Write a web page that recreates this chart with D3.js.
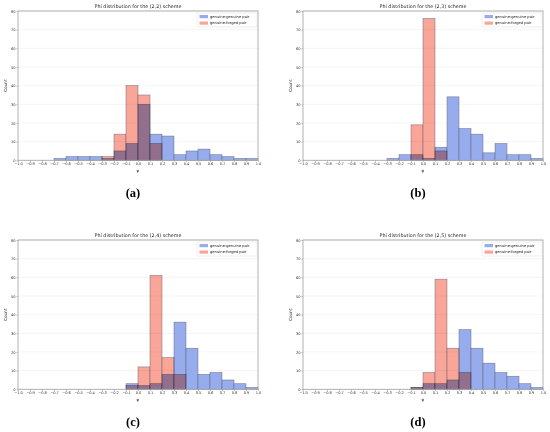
<!DOCTYPE html>
<html>
<head>
<meta charset="utf-8">
<script src="https://cdn.jsdelivr.net/npm/d3@7"></script>
<style>
  body { margin: 0; background: #fff; }
  svg { display: block; }
  .tick text { font-family: "DejaVu Sans", sans-serif; fill: #333; }
</style>
</head>
<body>
<svg id="grafico" width="550" height="432"></svg>
<script>
// Bordes de los intervalos del histograma y etiquetas de los ejes
var binEdges = [-1.0, -0.9, -0.8, -0.7, -0.6, -0.5, -0.4, -0.3, -0.2, -0.1, 0.0,
                0.1, 0.2, 0.3, 0.4, 0.5, 0.6, 0.7, 0.8, 0.9, 1.0];
var xTicks = binEdges;
var yTicks = [0, 10, 20, 30, 40, 50, 60, 70, 80];

var schemes = ["(2,2)", "(2,3)", "(2,4)", "(2,5)"];
var panelLabels = ["(a)", "(b)", "(c)", "(d)"];
var seriesNames = ["genuine-genuine pair", "genuine-forged pair"];

// Conteos por intervalo (20 intervalos de -1.0 a 1.0)
var genuineA = [0, 0, 0, 1, 2, 2, 2, 1, 5, 9, 30, 14, 13, 3, 5, 6, 3, 2, 1, 1];
var forgedA  = [0, 0, 0, 0, 0, 0, 0, 2, 14, 40, 35, 9, 0, 0, 0, 0, 0, 0, 0, 0];
var genuineB = [0, 0, 0, 0, 0, 0, 0, 1, 3, 3, 1, 7, 34, 17, 14, 4, 9, 3, 3, 1];
var forgedB  = [0, 0, 0, 0, 0, 0, 0, 0, 0, 19, 76, 5, 0, 0, 0, 0, 0, 0, 0, 0];
var genuineC = [0, 0, 0, 0, 0, 0, 0, 0, 0, 3, 2, 3, 8, 36, 22, 8, 9, 5, 3, 1];
var forgedC  = [0, 0, 0, 0, 0, 0, 0, 0, 0, 2, 12, 61, 17, 8, 0, 0, 0, 0, 0, 0];
var genuineD = [0, 0, 0, 0, 0, 0, 0, 0, 0, 1, 3, 3, 5, 32, 22, 14, 9, 7, 3, 1];
var forgedD  = [0, 0, 0, 0, 0, 0, 0, 0, 0, 1, 9, 59, 22, 9, 0, 0, 0, 0, 0, 0];

var genuineSeries = [genuineA, genuineB, genuineC, genuineD];
var forgedSeries = [forgedA, forgedB, forgedC, forgedD];

var colors = ["#96acec", "#f9a598"];

// Posición de cada panel (esquina superior izquierda del área de dibujo)
var panels = [
  {x: 18, y: 11},
  {x: 303, y: 11},
  {x: 18, y: 240},
  {x: 303, y: 240}
];
var ancho = 240, alto = 149.3;

var svg = d3.select("#grafico");

function dibujar_panel(i) {
  var p = panels[i];
  var g = svg.append("g").attr("transform", "translate(" + p.x + "," + p.y + ")");

  var x = d3.scaleLinear().domain([-1, 1]).range([0, ancho]);
  var y = d3.scaleLinear().domain([0, 80]).range([alto, 0]);

  // Rejilla horizontal
  g.append("g")
    .selectAll("line")
    .data(yTicks.slice(1))
    .enter()
    .append("line")
    .attr("x1", 0).attr("x2", ancho)
    .attr("y1", d => y(d)).attr("y2", d => y(d))
    .attr("stroke", "#eeeeee")
    .attr("stroke-width", 0.6);

  // Barras
  var series = [genuineSeries[i], forgedSeries[i]];
  series.forEach(function(counts, s) {
    g.append("g")
      .style("mix-blend-mode", s === 1 ? "multiply" : "normal")
      .selectAll("rect")
      .data(counts.map((c, k) => ({x0: binEdges[k], x1: binEdges[k + 1], c: c})).filter(d => d.c > 0))
      .enter()
      .append("rect")
      .attr("x", d => x(d.x0))
      .attr("width", d => x(d.x1) - x(d.x0))
      .attr("y", d => y(d.c))
      .attr("height", d => y(0) - y(d.c))
      .attr("fill", colors[s])
      .attr("stroke", "#5a5a6e")
      .attr("stroke-opacity", 0.7)
      .attr("stroke-width", 0.6);
  });

  // Ejes
  var xAxis = d3.axisBottom(x)
    .tickValues(xTicks)
    .tickSize(1.5)
    .tickPadding(1)
    .tickFormat(d => d3.format(".1f")(d).replace("-", "\u2212"));
  var gx = g.append("g").attr("transform", "translate(0," + alto + ")").call(xAxis);
  gx.select(".domain").remove();
  gx.selectAll(".tick line").attr("stroke", "#777").attr("stroke-width", 0.5);
  gx.selectAll(".tick text").style("font-size", "3.6px");

  var yAxis = d3.axisLeft(y)
    .tickValues(yTicks)
    .tickSize(1.5)
    .tickPadding(1);
  var gy = g.append("g").call(yAxis);
  gy.select(".domain").remove();
  gy.selectAll(".tick line").attr("stroke", "#777").attr("stroke-width", 0.5);
  gy.selectAll(".tick text").style("font-size", "3.6px");

  // Marco
  g.append("rect")
    .attr("width", ancho)
    .attr("height", alto)
    .attr("fill", "none")
    .attr("stroke", "#a8a8a8")
    .attr("stroke-width", 0.9);

  // Título y etiquetas
  g.append("text")
    .attr("x", ancho / 2)
    .attr("y", -3)
    .attr("text-anchor", "middle")
    .style("font-family", "DejaVu Sans, sans-serif")
    .style("font-size", "4.8px")
    .style("fill", "#222")
    .text("Phi distribution for the " + schemes[i] + " scheme");

  g.append("text")
    .attr("x", ancho / 2)
    .attr("y", alto + 12)
    .attr("text-anchor", "middle")
    .style("font-family", "DejaVu Sans, sans-serif")
    .style("font-size", "4.2px")
    .style("fill", "#222")
    .text("\u03c6");

  g.append("text")
    .attr("transform", "translate(" + (-11) + "," + (alto / 2) + ") rotate(-90)")
    .attr("text-anchor", "middle")
    .style("font-family", "DejaVu Sans, sans-serif")
    .style("font-size", "4.2px")
    .style("fill", "#222")
    .text("Count");

  // Leyenda
  var ley = g.append("g").attr("transform", "translate(" + (ancho - 61) + ",2)");
  ley.append("rect")
    .attr("width", 60)
    .attr("height", 14)
    .attr("rx", 0.8)
    .attr("fill", "#fff")
    .attr("stroke", "#dddddd")
    .attr("stroke-width", 0.5);
  seriesNames.forEach(function(nombre, s) {
    ley.append("rect")
      .attr("x", 2.5)
      .attr("y", 2 + s * 6.5)
      .attr("width", 8.5)
      .attr("height", 3.2)
      .attr("fill", colors[s]);
    ley.append("text")
      .attr("x", 13)
      .attr("y", 4.9 + s * 6.5)
      .style("font-family", "DejaVu Sans, sans-serif")
      .style("font-size", "3.7px")
      .style("fill", "#222")
      .text(nombre);
  });

  // Letra del subpanel
  svg.append("text")
    .attr("x", p.x + ancho / 2 - 5)
    .attr("y", p.y + alto + 37)
    .attr("text-anchor", "middle")
    .style("font-family", "Liberation Serif, serif")
    .style("font-weight", "bold")
    .style("font-size", "12.5px")
    .style("fill", "#000")
    .text(panelLabels[i]);
}

for (var i = 0; i < panels.length; i++) {
  dibujar_panel(i);
}
</script>
</body>
</html>
